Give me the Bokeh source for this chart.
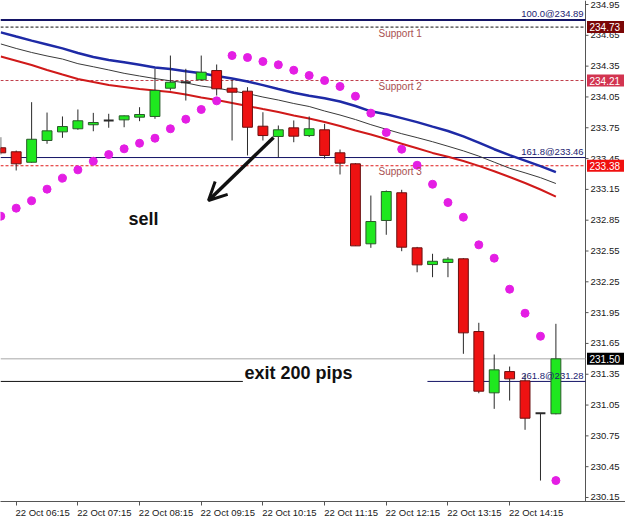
import numpy as np
from bokeh.plotting import figure
from bokeh.models import ColumnDataSource, Range1d, FixedTicker, Arrow, OpenHead
from bokeh.core.properties import value
from bokeh.embed import file_html
from bokeh.resources import INLINE

# ---------------- data (M15 bars, index 0 = 22 Oct 06:15) ----------------
bar_index = list(range(-1, 36))
opens = [233.555, 233.516, 233.414, 233.626, 233.710, 233.740, 233.779, 233.821, 233.827, 233.853,
         233.860, 234.135, 234.193, 234.217, 234.307, 234.135, 234.106, 233.765, 233.665, 233.749,
         233.674, 233.730, 233.506, 233.399, 232.620, 232.847, 233.117, 232.581, 232.418, 232.438,
         232.474, 231.766, 231.169, 231.376, 231.286, 230.970, 230.965]
highs = [233.658, 233.528, 233.999, 233.898, 233.860, 233.928, 233.895, 233.886, 233.870, 233.950,
         234.324, 234.453, 234.324, 234.453, 234.366, 234.217, 234.145, 233.901, 233.772, 233.821,
         233.860, 233.788, 233.538, 233.405, 233.090, 233.139, 233.146, 232.590, 232.523, 232.490,
         232.480, 231.851, 231.542, 231.425, 231.347, 230.970, 231.841]
lows = [233.490, 233.334, 233.410, 233.594, 233.652, 233.730, 233.716, 233.750, 233.755, 233.814,
        233.837, 234.113, 234.015, 234.210, 234.064, 233.626, 233.480, 233.626, 233.463, 233.609,
        233.660, 233.448, 233.295, 232.600, 232.581, 232.708, 232.548, 232.343, 232.295, 232.295,
        231.549, 231.165, 231.013, 231.094, 230.809, 230.315, 230.960]
closes = [233.506, 233.399, 233.638, 233.720, 233.762, 233.818, 233.801, 233.821, 233.866, 233.879,
          234.113, 234.193, 234.193, 234.291, 234.129, 234.096, 233.755, 233.674, 233.730, 233.668,
          233.740, 233.480, 233.405, 232.600, 232.837, 233.129, 232.587, 232.415, 232.450, 232.470,
          231.753, 231.185, 231.393, 231.305, 230.922, 230.970, 231.500]
sar = [232.889, 232.967, 233.039, 233.152, 233.259, 233.340, 233.424, 233.489, 233.545, 233.599,
       233.648, 233.740, 233.833, 233.928, 234.012, 234.453, 234.434, 234.395, 234.363, 234.310,
       234.259, 234.210, 234.152, 234.057, 233.892, 233.704, 233.541, 233.385, 233.200, 233.022,
       232.879, 232.610, 232.480, 232.178, 231.944, 231.720, 230.315]
ma_blue = [234.679, 234.638, 234.598, 234.561, 234.523, 234.478, 234.439, 234.410, 234.387, 234.364,
           234.337, 234.321, 234.301, 234.281, 234.254, 234.229, 234.200, 234.165, 234.127, 234.090,
           234.061, 234.037, 234.006, 233.962, 233.910, 233.881, 233.844, 233.805, 233.761, 233.718,
           233.666, 233.605, 233.541, 233.483, 233.430, 233.376, 233.318]
ma_black = [234.566, 234.522, 234.483, 234.449, 234.419, 234.374, 234.344, 234.313, 234.280, 234.254,
            234.229, 234.207, 234.187, 234.156, 234.137, 234.108, 234.083, 234.049, 234.020, 233.986,
            233.957, 233.913, 233.874, 233.830, 233.780, 233.735, 233.692, 233.654, 233.614, 233.570,
            233.525, 233.474, 233.415, 233.356, 233.311, 233.264, 233.207]
ma_red = [234.443, 234.402, 234.361, 234.312, 234.268, 234.225, 234.195, 234.166, 234.147, 234.127,
          234.113, 234.098, 234.074, 234.044, 234.020, 233.991, 233.962, 233.932, 233.903, 233.869,
          233.840, 233.806, 233.767, 233.723, 233.685, 233.640, 233.595, 233.550, 233.505, 233.467,
          233.426, 233.379, 233.326, 233.271, 233.212, 233.149, 233.080]

time_tick_index = [0, 4, 8, 12, 16, 20, 24, 28, 32]
time_tick_labels = ["22 Oct 06:15", "22 Oct 07:15", "22 Oct 08:15", "22 Oct 09:15",
                    "22 Oct 10:15", "22 Oct 11:15", "22 Oct 12:15", "22 Oct 13:15", "22 Oct 14:15"]
price_ticks = [230.15, 230.45, 230.75, 231.05, 231.35, 231.65, 231.95, 232.25, 232.55,
               232.85, 233.15, 233.45, 233.75, 234.05, 234.35, 234.65, 234.95]

fib_100 = 234.80
fib_100_text = "100.0@234.89"
fib_161 = 233.46
fib_161_text = "161.8@233.46"
fib_261 = 231.28
fib_261_text = "261.8@231.28"
support_levels = [234.73, 234.21, 233.38]
support_names = ["Support 1", "Support 2", "Support 3"]
support_colors = ["#111111", "#c0404c", "#e01818"]
support_box_colors = ["#7a0606", "#d23450", "#f01010"]
bid_price = 231.50

# ---------------- figure ----------------
PX = 15.42            # pixels per bar
X0 = -1.018           # left edge of frame (bar units)
X1 = X0 + 625 / PX    # frame spans the full width; price scale drawn at the right
AX = X0 + 585 / PX    # position of the price-scale line
Y0, Y1 = 230.111, 234.989
FONT = "Liberation Sans"

p = figure(width=625, height=523, x_range=Range1d(X0, X1), y_range=Range1d(Y0, Y1),
           output_backend="svg", toolbar_location=None, y_axis_location=None,
           min_border_left=0, min_border_top=0, min_border_right=0, min_border_bottom=22)
p.outline_line_color = None
p.grid.visible = False
p.background_fill_color = "white"
p.border_fill_color = "white"

# time axis: labels sit to the right of their tick (MT4 style)
shift = 26.5 / PX
xa = p.xaxis[0]
xa.ticker = FixedTicker(ticks=[t + shift for t in time_tick_index], minor_ticks=time_tick_index)
xa.major_label_overrides = {t + shift: lab for t, lab in zip(time_tick_index, time_tick_labels)}
xa.major_label_text_font = FONT
xa.major_label_text_font_size = "9.5px"
xa.major_label_text_color = "#202020"
xa.major_label_standoff = 1
xa.major_tick_in = 0
xa.major_tick_out = 0
xa.minor_tick_in = 0
xa.minor_tick_out = 4
xa.minor_tick_line_color = "#555555"
xa.axis_line_color = "#555555"

# price scale on the right
p.line([AX, AX], [Y0, Y1], line_color="#555555", line_width=1)
p.segment([AX] * len(price_ticks), price_ticks, [AX + 3 / PX] * len(price_ticks), price_ticks,
          line_color="#555555", line_width=1)
p.text([AX + 5 / PX] * len(price_ticks), price_ticks, text=[f"{t:.2f}" for t in price_ticks],
       text_font=value(FONT), text_font_size="9.5px", text_color="#202020",
       text_align="left", text_baseline="middle")

# ---------------- horizontal levels ----------------
p.line([X0, AX], [fib_100, fib_100], line_color="#141466", line_width=2)
p.line([X0, AX], [fib_161, fib_161], line_color="#141466", line_width=1)
p.line([X0, AX], [bid_price, bid_price], line_color="#a8a8a8", line_width=1)
p.line([X0, 14.7], [fib_261, fib_261], line_color="#111111", line_width=1)
p.line([26.67, AX], [fib_261, fib_261], line_color="#141466", line_width=1)
for lvl, col in zip(support_levels, support_colors):
    p.line([X0, AX], [lvl, lvl], line_color=col, line_width=1, line_dash="3 2")

# ---------------- moving averages ----------------
p.line(bar_index, ma_red, line_color="#d01a1a", line_width=2)
p.line(bar_index, ma_black, line_color="#3a3a3a", line_width=1)
p.line(bar_index, ma_blue, line_color="#1e2aa6", line_width=2.5)

# ---------------- candles ----------------
o = np.array(opens); c = np.array(closes)
idx = np.array(bar_index)
doji = np.abs(o - c) < 0.003
bull = (c > o) & ~doji
bear = (c < o) & ~doji

p.segment(idx, lows, idx, highs, line_color="#2a2a2a", line_width=1)
W = 0.64
src_bull = ColumnDataSource(dict(x=idx[bull], top=c[bull], bottom=o[bull]))
src_bear = ColumnDataSource(dict(x=idx[bear], top=o[bear], bottom=c[bear]))
p.vbar(x="x", top="top", bottom="bottom", width=W, source=src_bull,
       fill_color="#1fe81f", line_color="#2a5a2a", line_width=1)
p.vbar(x="x", top="top", bottom="bottom", width=W, source=src_bear,
       fill_color="#ee1212", line_color="#6a1010", line_width=1)
p.segment(idx[doji] - W / 2, o[doji], idx[doji] + W / 2, o[doji], line_color="#2a2a2a", line_width=2)

# ---------------- parabolic SAR ----------------
p.scatter(bar_index, sar, size=8, fill_color="#e41ee4", line_color="#e41ee4")

# ---------------- texts ----------------
for lvl, name in zip(support_levels, support_names):
    p.text([24.9], [lvl - 0.058], text=[name], text_font=value(FONT), text_font_size="10px",
           text_color="#a85050", text_align="center", text_baseline="middle")

for lvl, txt in [(fib_100, fib_100_text), (fib_161, fib_161_text), (fib_261, fib_261_text)]:
    p.text([AX - 0.12], [lvl + 0.06], text=[txt], text_font=value(FONT), text_font_size="9.5px",
           text_color="#1c1c70", text_align="right", text_baseline="middle")

p.text([8.26], [232.866], text=["sell"], text_font=value(FONT), text_font_size="18px",
       text_font_style="bold", text_color="#111111", text_align="center", text_baseline="middle")
p.text([14.8], [231.367], text=["exit 200 pips"], text_font=value(FONT), text_font_size="18px",
       text_font_style="bold", text_color="#111111", text_align="left", text_baseline="middle")

p.add_layout(Arrow(end=OpenHead(size=18, line_width=3, line_color="#111111"),
                   x_start=16.69, y_start=233.655, x_end=12.47, y_end=233.042,
                   line_width=3.5, line_color="#111111"))

# ---------------- price boxes on the price scale ----------------
box_levels = support_levels + [bid_price]
box_colors = support_box_colors + ["#000000"]
p.rect([AX + 20 / PX] * len(box_levels), box_levels, width=37 / PX, height=12 / 102.7,
       fill_color=box_colors, line_color=None)
p.text([AX + 4 / PX] * len(box_levels), box_levels, text=[f"{v:.2f}" for v in box_levels],
       text_font=value(FONT), text_font_size="10px", text_color="white",
       text_align="left", text_baseline="middle")

open("out.html", "w").write(file_html(p, INLINE))
